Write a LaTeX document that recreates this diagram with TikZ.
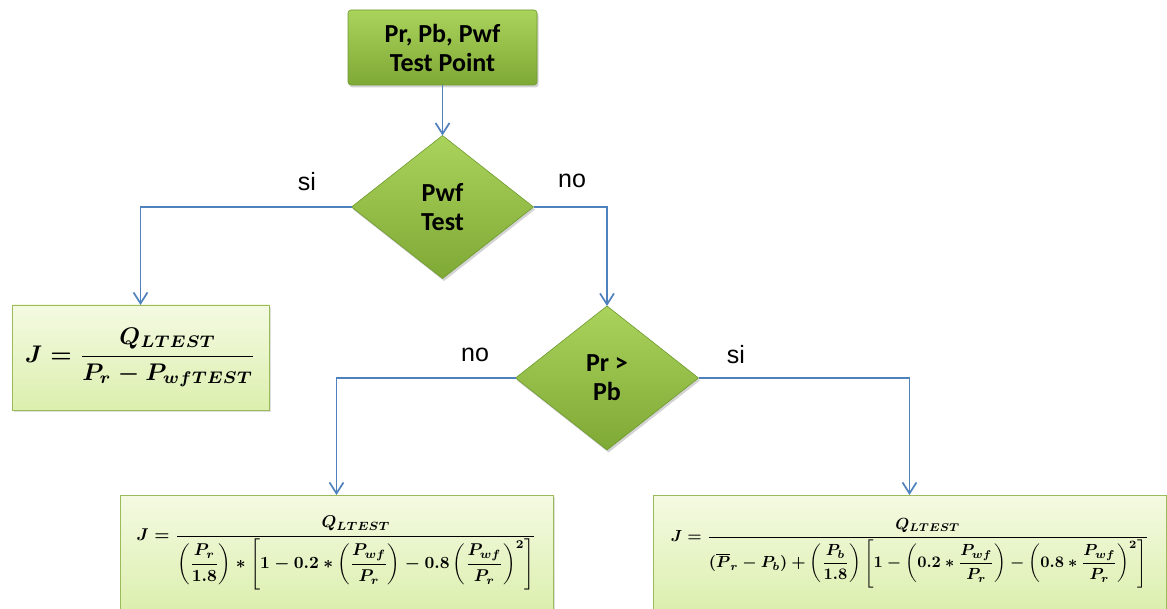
\documentclass[tikz,border=0pt]{standalone}
\usepackage{fontspec}
\usepackage{amsmath}
\usepackage{graphicx}
\usetikzlibrary{shapes.geometric,arrows.meta,shadows}
\newfontfamily\carlito{Carlito}
\newfontfamily\arialfont{Liberation Sans}
\definecolor{flowblue}{HTML}{4F81BD}
\definecolor{gtop}{HTML}{AAD35C}
\definecolor{gbot}{HTML}{7FA935}
\definecolor{gborder}{HTML}{6E9A2E}
\definecolor{ftop}{HTML}{F4FAE2}
\definecolor{fbot}{HTML}{DCEFAE}
\definecolor{fborder}{HTML}{9BBB59}
\begin{document}
\begin{tikzpicture}[x=1pt,y=-1pt,
  greenbox/.style={draw=gborder, line width=0.6pt, top color=gtop, bottom color=gbot,
    drop shadow={shadow xshift=1.5pt, shadow yshift=-2.5pt, opacity=0.35},
    font=\carlito\bfseries\fontsize{26}{29}\selectfont, align=center,
    inner sep=0pt, outer sep=0pt},
  fbox/.style={draw=fborder, line width=0.9pt, top color=ftop, bottom color=fbot,
    drop shadow={shadow xshift=1.5pt, shadow yshift=-2pt, opacity=0.25},
    inner sep=0pt, outer sep=0pt},
  flow/.style={draw=flowblue, line width=1.7pt,
    -{Straight Barb[length=11pt,width=14pt,line width=1.7pt]}},
  lbl/.style={font=\arialfont\fontsize{25}{28}\selectfont, inner sep=0pt, anchor=base}
]
\path[use as bounding box] (0,0) rectangle (1167,609);
\clip (0,0) rectangle (1167,609);

\node[greenbox, rounded corners=3pt, minimum width=189pt, minimum height=75pt] (start) at (442.5,47.5) {Pr, Pb, Pwf\\Test Point};
\node[greenbox, diamond, minimum width=182pt, minimum height=143pt] (d1) at (442.5,207) {Pwf\\Test};
\node[greenbox, diamond, minimum width=183pt, minimum height=144pt] (d2) at (607,378) {Pr >\\Pb};

\node[fbox, minimum width=257pt, minimum height=105pt] (f1) at (140.5,357.5)
  {\resizebox{231pt}{!}{\boldmath$\displaystyle J=\frac{Q_{LTEST}}{P_r-P_{wfTEST}}$}};
\node[fbox, minimum width=433pt, minimum height=116pt] (f2) at (336.5,553)
  {\resizebox{400pt}{!}{\boldmath$\displaystyle J=\frac{Q_{LTEST}}{\left(\dfrac{P_r}{1.8}\right)*\left[1-0.2*\left(\dfrac{P_{wf}}{P_r}\right)-0.8\left(\dfrac{P_{wf}}{P_r}\right)^{2}\right]}$}};
\node[fbox, minimum width=513pt, minimum height=116pt] (f3) at (909.5,553)
  {\resizebox{478pt}{!}{\boldmath$\displaystyle J=\frac{Q_{LTEST}}{(\overline{P}_r-P_b)+\left(\dfrac{P_b}{1.8}\right)\left[1-\left(0.2*\dfrac{P_{wf}}{P_r}\right)-\left(0.8*\dfrac{P_{wf}}{P_r}\right)^{2}\right]}$}};

\draw[flow] (start.south) -- (d1.north);
\draw[flow] (d1.west) -| (f1.north);
\draw[flow] (d1.east) -| (d2.north);
\draw[flow] (d2.west) -| (f2.north);
\draw[flow] (d2.east) -| (f3.north);

\node[lbl] (l1) at (307,191) {si};
\node[lbl] (l2) at (572,188) {no};
\node[lbl] (l3) at (475,362) {no};
\node[lbl] (l4) at (736,363) {si};
\end{tikzpicture}
\end{document}
